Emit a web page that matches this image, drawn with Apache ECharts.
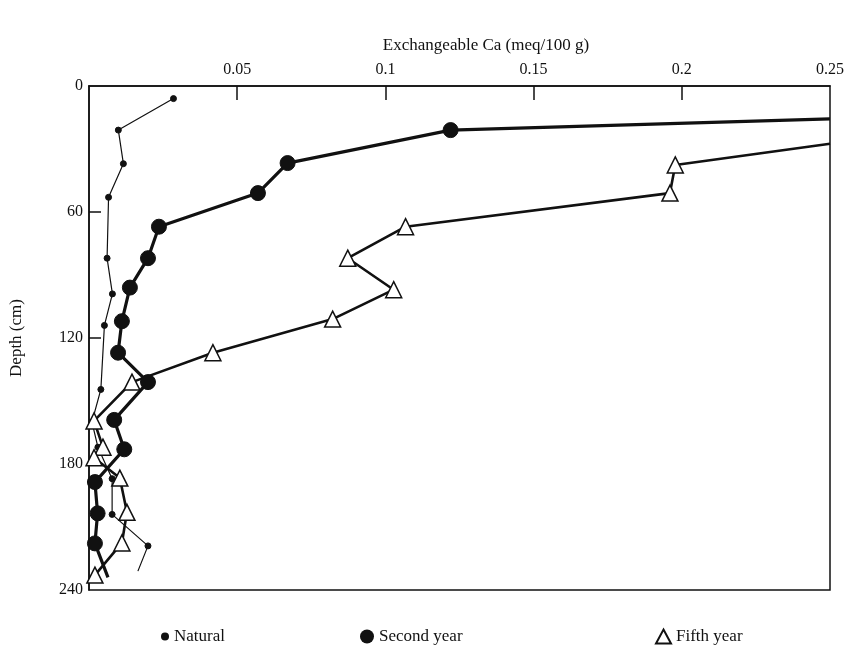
<!DOCTYPE html>
<html>
<head>
<meta charset="utf-8">
<script src="https://cdn.jsdelivr.net/npm/echarts@6/dist/echarts.min.js"></script>
<style>html,body{margin:0;padding:0;background:#fff;}#c{width:855px;height:649px;}</style>
</head>
<body>
<div id="c"></div>
<script>
const xTicks = [0, 0.05, 0.1, 0.15, 0.2, 0.25];
const yTicks = [0, 60, 120, 180, 240];
const seriesNames = ['Natural', 'Second year', 'Fifth year'];

const naturalCa    = [0.0285, 0.0099, 0.0116, 0.0066, 0.0061, 0.0079, 0.0052, 0.0040, 0.0010, 0.0030, 0.0078, 0.0078, 0.0199, 0.0165];
const naturalDepth = [6, 21, 37, 53, 82, 99, 114, 144.5, 160, 172, 187, 204, 219, 231];

const secondCa    = [0.25, 0.122, 0.067, 0.057, 0.0236, 0.0199, 0.0138, 0.0111, 0.0098, 0.0199, 0.0085, 0.0119, 0.0020, 0.0029, 0.0020, 0.0064];
const secondDepth = [15.7, 21, 36.7, 51, 67, 82, 96, 112, 127, 141, 159, 173, 188.6, 203.5, 217.8, 234];

const fifthCa    = [0.25, 0.1978, 0.196, 0.1068, 0.0873, 0.1028, 0.0822, 0.0418, 0.0145, 0.0017, 0.0047, 0.0017, 0.0104, 0.0128, 0.0111, 0.0020];
const fifthDepth = [27.5, 37.6, 51, 67, 82, 97, 111, 127, 141, 159.5, 172, 177, 186.7, 203, 217.6, 232.9];

function build(ca, depth, hidden) {
  return ca.map((v, i) => {
    const d = { value: [v, depth[i]] };
    if (hidden.indexOf(i) >= 0) d.symbol = 'none';
    return d;
  });
}

const serif = '"Liberation Serif", "DejaVu Serif", serif';
const chart = echarts.init(document.getElementById('c'));
chart.setOption({
  animation: false,
  backgroundColor: '#fff',
  title: {
    text: 'Exchangeable Ca (meq/100 g)',
    left: 481, top: 32, textAlign: 'center',
    textStyle: { fontFamily: serif, fontSize: 17, fontWeight: 'normal', color: '#111' }
  },
  grid: { left: 88, right: 25, top: 86, bottom: 59, show: true, borderColor: '#111', borderWidth: 1.5, backgroundColor: 'transparent' },
  xAxis: {
    type: 'value', position: 'top', min: xTicks[0], max: xTicks[xTicks.length - 1], interval: 0.05,
    axisLine: { show: true, lineStyle: { color: '#111', width: 1.5 } },
    axisTick: { show: true, inside: true, length: 14, customValues: xTicks.slice(1, -1), lineStyle: { color: '#111', width: 1.5 } },
    splitLine: { show: false },
    axisLabel: {
      fontFamily: serif, fontSize: 16, color: '#111', margin: 8,
      formatter: v => (v === 0 ? '' : String(+v.toFixed(2)))
    }
  },
  yAxis: {
    type: 'value', inverse: true, min: yTicks[0], max: yTicks[yTicks.length - 1], interval: 60,
    name: 'Depth (cm)', nameLocation: 'middle', nameGap: 64, nameRotate: 90,
    nameTextStyle: { fontFamily: serif, fontSize: 17, color: '#111' },
    axisLine: { show: true, lineStyle: { color: '#111', width: 1.5 } },
    axisTick: { show: true, inside: true, length: 12, customValues: yTicks.slice(1, -1), lineStyle: { color: '#111', width: 1.5 } },
    splitLine: { show: false },
    axisLabel: { fontFamily: serif, fontSize: 16, color: '#111', margin: 6 }
  },
  legend: [
    { data: [{ name: seriesNames[0], icon: 'circle' }], left: 156, top: 623, itemWidth: 8, itemHeight: 8, itemGap: 8,
      textStyle: { fontFamily: serif, fontSize: 17, color: '#111' } },
    { data: [{ name: seriesNames[1], icon: 'circle' }], left: 355, top: 623, itemWidth: 14, itemHeight: 14,
      textStyle: { fontFamily: serif, fontSize: 17, color: '#111' } },
    { data: [{ name: seriesNames[2], icon: 'triangle' }], left: 650, top: 623, itemWidth: 15, itemHeight: 14,
      textStyle: { fontFamily: serif, fontSize: 17, color: '#111' } }
  ],
  series: [
    {
      name: seriesNames[0], type: 'line', data: build(naturalCa, naturalDepth, [naturalCa.length - 1]),
      symbol: 'circle', symbolSize: 6, showAllSymbol: true,
      lineStyle: { color: '#111', width: 1.2 },
      itemStyle: { color: '#111', borderColor: '#111' }
    },
    {
      name: seriesNames[1], type: 'line', data: build(secondCa, secondDepth, [0, secondCa.length - 1]),
      symbol: 'circle', symbolSize: 15, showAllSymbol: true,
      lineStyle: { color: '#111', width: 3.2 },
      itemStyle: { color: '#111', borderColor: '#111' }
    },
    {
      name: seriesNames[2], type: 'line', data: build(fifthCa, fifthDepth, [0]),
      symbol: 'triangle', symbolSize: 16, showAllSymbol: true,
      lineStyle: { color: '#111', width: 2.6 },
      itemStyle: { color: '#fff', borderColor: '#111', borderWidth: 1.5 }
    }
  ]
});
</script>
</body>
</html>
